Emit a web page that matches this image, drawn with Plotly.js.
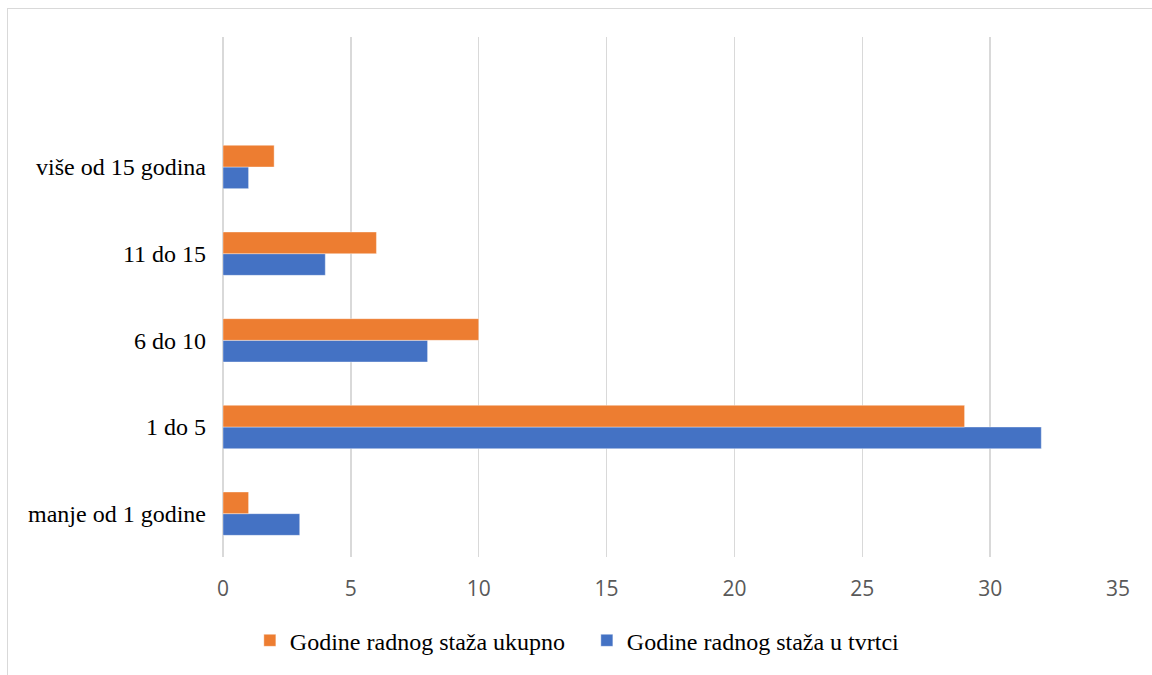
<!DOCTYPE html>
<html>
<head>
<meta charset="utf-8">
<script src="https://cdn.plot.ly/plotly-3.0.1.min.js"></script>
<style>
  html, body { margin: 0; padding: 0; overflow: hidden; background: #fff; }
  #chart { width: 1152px; height: 675px; }
  #frame { position: absolute; left: 7px; top: 8px; width: 1200px; height: 720px;
           border: 1.5px solid #d9d9d9; pointer-events: none; }
</style>
</head>
<body>
<div id="chart"></div>
<div id="frame"></div>
<script>
const categories = ["manje od 1 godine", "1 do 5", "6 do 10", "11 do 15", "više od 15 godina"];
const seriesNames = ["Godine radnog staža u tvrtci", "Godine radnog staža ukupno"];
const uTvrtci = [3, 32, 8, 4, 1];
const ukupno = [1, 29, 10, 6, 2];
const xTicks = [0, 5, 10, 15, 20, 25, 30, 35];

const traces = [
  { type: "bar", orientation: "h", name: seriesNames[0], y: categories, x: uTvrtci,
    marker: { color: "#4472C4", line: { color: "rgba(255,255,255,0.5)", width: 0.75 } },
    hoverinfo: "x+name" },
  { type: "bar", orientation: "h", name: seriesNames[1], y: categories, x: ukupno,
    marker: { color: "#ED7D31", line: { color: "rgba(255,255,255,0.5)", width: 0.75 } },
    hoverinfo: "x+name" }
];

const layout = {
  width: 1152, height: 675,
  margin: { l: 223, r: 34, t: 37, b: 116 },
  paper_bgcolor: "#ffffff", plot_bgcolor: "#ffffff",
  barmode: "group", bargap: 0.5, bargroupgap: 0,
  xaxis: {
    range: [0, 35], tickvals: xTicks, ticktext: xTicks.map(String),
    showgrid: true, gridcolor: "#d9d9d9", gridwidth: 1.5,
    zeroline: true, zerolinecolor: "#d9d9d9", zerolinewidth: 1.5,
    showline: false, ticks: "",
    tickfont: { family: "Liberation Sans Narrow, Open Sans, sans-serif", size: 21, color: "#595959" },
    ticklabelstandoff: 17, fixedrange: true
  },
  yaxis: {
    type: "category", categoryorder: "array", categoryarray: categories,
    range: [-0.5, 5.5], showgrid: false, zeroline: false, showline: false, ticks: "",
    tickfont: { family: "Liberation Serif, Times New Roman, serif", size: 24, color: "#000000" },
    ticklabelstandoff: 16, fixedrange: true
  },
  showlegend: true,
  legend: {
    orientation: "h", traceorder: "reversed",
    x: 0.03, xanchor: "left", y: -0.161, yanchor: "middle",
    font: { family: "Liberation Serif, Times New Roman, serif", size: 24, color: "#000000" },
    entrywidth: 292, entrywidthmode: "pixels",
    bgcolor: "rgba(0,0,0,0)"
  }
};

Plotly.newPlot("chart", traces, layout, { displayModeBar: false, staticPlot: true });
</script>
</body>
</html>
